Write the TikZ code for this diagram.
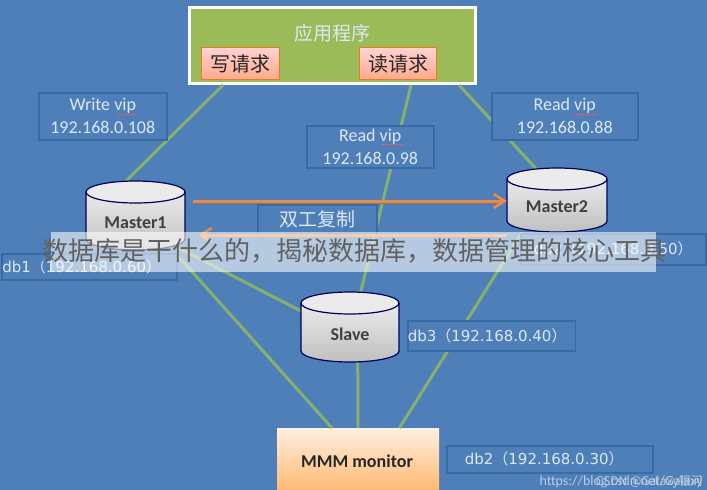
\documentclass[tikz,border=0pt]{standalone}
\usepackage{fontspec}
\setmainfont{Carlito}
\newfontfamily\cjk{Noto Sans CJK SC}
\newfontfamily\dv{DejaVu Sans}
\usetikzlibrary{arrows.meta,decorations.pathmorphing,calc}
\definecolor{bg}{HTML}{4F7FB8}
\definecolor{edge}{HTML}{386AA3}
\definecolor{wire}{HTML}{86B06E}
\definecolor{pale}{HTML}{DCE8F6}
\definecolor{olive}{HTML}{9BBB59}
\definecolor{orangeline}{HTML}{E88B4A}
\newcommand{\lp}{{\cjk（}}
\newcommand{\rp}{{\cjk）}}
\tikzset{
  x=1pt,y=-1pt,
  wirestyle/.style={draw=wire,line width=3pt},
  infobox/.style={draw=edge,line width=1.5pt,fill=bg,anchor=north west,inner sep=0pt,text=pale,align=center,font=\fontsize{18}{23}\selectfont},
  dbbox/.style={infobox,font=\dv\fontsize{15}{18}\selectfont},
  reqbox/.style={draw=orange!60!brown,line width=1.2pt,top color=red!18,bottom color=red!48!orange!45,anchor=north west,inner sep=0pt,font=\cjk\fontsize{20}{24}\selectfont,text=black!85},
  cyltext/.style={inner sep=0pt,font=\fontsize{18}{20}\selectfont\bfseries,text=black!75},
  squiggle/.style={draw=red!55!pink,line width=.5pt,decorate,decoration={snake,amplitude=.6pt,segment length=3pt}},
  duplex/.style={orangeline,line width=3pt,-{Straight Barb[length=11pt,width=14pt,line width=2.5pt]}},
}
\newcommand{\dbcyl}[6]{% name, left, top, right, bottom, label
  \pgfmathsetmacro{\rx}{(#4-#2)/2}
  \pgfmathsetmacro{\cx}{(#4+#2)/2}
  \shade[top color=white!92!black,bottom color=black!25] (#2,#3+11) -- (#2,#5-11) arc[start angle=180,end angle=360,x radius=\rx,y radius=-11] -- (#4,#3+11) -- cycle;
  \draw[line width=1.2pt,draw=black!65!blue] (#2,#3+11) -- (#2,#5-11) arc[start angle=180,end angle=360,x radius=\rx,y radius=-11] -- (#4,#3+11);
  \filldraw[fill=black!8,draw=black!65!blue,line width=1.2pt] (\cx,#3+11) ellipse[x radius=\rx,y radius=11];
  \node[cyltext] (#1) at (\cx,{(#3+#5)/2+7}) {#6};
}
\begin{document}
\begin{tikzpicture}
\useasboundingbox (0,0) rectangle (707,490);
\fill[bg] (0,0) rectangle (707,490);

% main nodes (placed first so connectors can name them)
\node[anchor=north west,draw=white,line width=3pt,fill=olive,minimum width=286pt,minimum height=76pt,inner sep=0pt] (app) at (188,6) {};
\node[anchor=north west,draw=none,top color=orange!12,bottom color=orange!55,minimum width=162pt,minimum height=62pt,inner sep=0pt] (mon) at (277,428) {};
\node[anchor=north west,minimum width=100pt,minimum height=69pt,inner sep=0pt] (m1) at (86,181) {};
\node[anchor=north west,minimum width=100pt,minimum height=64pt,inner sep=0pt] (m2) at (507,168) {};
\node[anchor=north west,minimum width=99pt,minimum height=70pt,inner sep=0pt] (sl) at (301,292) {};

% connectors
\draw[wirestyle] ([xshift=35pt]app.south west) -- ([xshift=39pt,yshift=-1pt]m1.north west);
\draw[wirestyle] ([xshift=-18pt]app.south east) -- ([xshift=-20pt,yshift=-2pt]m2.north);
\draw[wirestyle] ([xshift=-66pt]app.south east) -- ([xshift=10pt]sl.north);
\draw[wirestyle] ([xshift=-9pt,yshift=3pt]m1.south east) -- ([yshift=-19pt]sl.north west);
\draw[wirestyle] ([xshift=-9pt,yshift=-5pt]m1.south east) -- ([xshift=55pt]mon.north west);
\draw[wirestyle] ([xshift=7pt]sl.south) -- ([xshift=81pt]mon.north west);
\draw[wirestyle] ([xshift=15pt]m2.south west) -- ([xshift=-40pt]mon.north east);

% databases
\dbcyl{c1}{86}{181}{185}{250}{Master1}
\dbcyl{c2}{507}{168}{607}{232}{Master2}
\dbcyl{c3}{301}{292}{399}{362}{Slave}

% labelled boxes
\node[infobox,minimum width=128pt,minimum height=47pt] (wv) at (38,92) {Write vip\\192.168.0.108};
\node[infobox,minimum width=127pt,minimum height=42pt] (rv1) at (306,125) {Read vip\\192.168.0.98};
\node[infobox,minimum width=146pt,minimum height=47pt] (rv2) at (491,92) {Read vip\\192.168.0.88};
\node[infobox,minimum width=119pt,minimum height=30pt,font=\cjk\fontsize{19}{22}\selectfont] (dup) at (257,204) {双工复制};
\node[dbbox,minimum width=175pt,minimum height=26pt] (d1) at (1,253) {db1\lp 192.168.0.60\rp\hspace*{15pt}};
\node[dbbox,minimum width=185pt,minimum height=31pt] (d4) at (520,233) {db2\lp 192.168.0.50\rp};
\node[dbbox,minimum width=167pt,minimum height=30pt] (d3) at (407,320) {db3\lp 192.168.0.40\rp\hspace*{9pt}};
\node[dbbox,minimum width=206pt,minimum height=27pt] (d2) at (446,445) {db2\lp 192.168.0.30\rp\hspace*{11pt}};

\draw[squiggle] (117,114.5) -- (136,114.5);
\draw[squiggle] (381,144.5) -- (404,144.5);
\draw[squiggle] (574,114.5) -- (597,114.5);

% application contents
\node[text=pale,font=\cjk\fontsize{19}{22}\selectfont,inner sep=0pt] (apptxt) at (332,33) {应用程序};
\node[reqbox,minimum width=78pt,minimum height=32pt] (wr) at (201,47) {写请求};
\node[reqbox,minimum width=77pt,minimum height=32pt] (rr) at (359,47) {读请求};

% monitor label
\node[inner sep=0pt,font=\fontsize{18}{22}\selectfont\bfseries,text=black!85] (montxt) at (357,461) {MMM monitor};

% replication arrows
\draw[black!55!brown!70,line width=2pt] ([xshift=7pt,yshift=-22pt]m1.north east) -- ([xshift=-3pt,yshift=-35pt]m2.north west);
\draw[duplex] ([xshift=7pt,yshift=-20pt]m1.north east) -- ([yshift=-33pt]m2.north west);
\draw[duplex] ([yshift=-67pt]m2.north west) -- ([xshift=12pt,yshift=-54pt]m1.north east);

% banner
\fill[white,fill opacity=.58] (51,232) rectangle (656,272);
\node[inner sep=0pt,font=\cjk\fontsize{26}{30}\selectfont,text=black!62,anchor=west] (banner) at (42,251) {数据库是干什么的，揭秘数据库，数据管理的核心工具};

% watermark
\node[inner sep=0pt,anchor=east,font=\fontsize{14}{16}\selectfont,text=white!60!bg] (url) at (703,482) {https://blog.csdn.net/Galaxy};
\node[inner sep=0pt,anchor=east,font=\cjk\fontsize{12}{14}\selectfont,text=white!60!bg] (mark) at (703,482) {CSDN @Galaxy银河};
\end{tikzpicture}
\end{document}
